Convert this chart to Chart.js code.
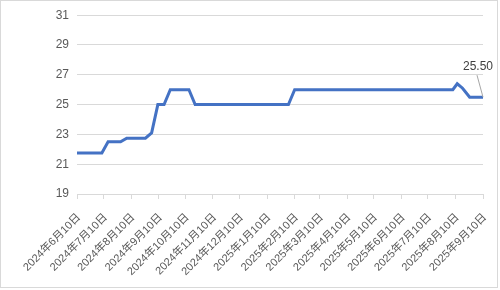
<!DOCTYPE html>
<html>
<head>
<meta charset="utf-8">
<script src="https://cdn.jsdelivr.net/npm/chart.js@4"></script>
<style>
  body { margin: 0; background: #fff; }
  #wrap { width: 500px; height: 290px; position: relative; }
</style>
</head>
<body>
<div id="wrap"><canvas id="myChart" width="500" height="290"></canvas></div>
<script>
// vertices of the price line (flat between them)
const dates = ['2024-06-10', '2024-07-08', '2024-07-15', '2024-07-29', '2024-08-05', '2024-08-26',
    '2024-09-02', '2024-09-09', '2024-09-16', '2024-09-23', '2024-10-14', '2024-10-21',
    '2025-02-03', '2025-02-10', '2025-08-07', '2025-08-12', '2025-08-18', '2025-08-26', '2025-09-10']
const values = [21.75, 21.75, 22.5, 22.5, 22.75, 22.75,
    23.1, 25, 25, 26, 26, 25,
    25, 26, 26, 26.4, 26.1, 25.5, 25.5]

const tickDates = ['2024-06-10', '2024-07-10', '2024-08-10', '2024-09-10', '2024-10-10', '2024-11-10',
    '2024-12-10', '2025-01-10', '2025-02-10', '2025-03-10', '2025-04-10', '2025-05-10',
    '2025-06-10', '2025-07-10', '2025-08-10', '2025-09-10']
const tickLabels = ['2024年6月10日', '2024年7月10日', '2024年8月10日', '2024年9月10日', '2024年10月10日', '2024年11月10日',
    '2024年12月10日', '2025年1月10日', '2025年2月10日', '2025年3月10日', '2025年4月10日', '2025年5月10日',
    '2025年6月10日', '2025年7月10日', '2025年8月10日', '2025年9月10日']

function dayNum(s) {
    const p = s.split('-').map(Number)
    return Date.UTC(p[0], p[1] - 1, p[2]) / 86400000
}

const FONT = '"Liberation Sans", Arial, "Noto Sans CJK SC", sans-serif'

const lastLabel = {
    id: 'lastLabel',
    afterDatasetsDraw(chart) {
        const meta = chart.getDatasetMeta(0)
        const pt = meta.data[meta.data.length - 1]
        const ctx = chart.ctx
        ctx.save()
        ctx.strokeStyle = '#a6a6a6'
        ctx.lineWidth = 1
        ctx.beginPath()
        ctx.moveTo(pt.x - 6, pt.y - 22)
        ctx.lineTo(pt.x, pt.y)
        ctx.stroke()
        ctx.fillStyle = '#404040'
        ctx.font = '12px ' + FONT
        ctx.textAlign = 'center'
        ctx.textBaseline = 'middle'
        ctx.fillText(values[values.length - 1].toFixed(2), pt.x - 5, pt.y - 30)
        ctx.restore()
    }
}

const frame = {
    id: 'frame',
    beforeDraw(chart) {
        const ctx = chart.ctx
        ctx.save()
        ctx.fillStyle = '#fff'
        ctx.fillRect(0, 0, chart.width, chart.height)
        ctx.strokeStyle = '#d9d9d9'
        ctx.lineWidth = 1
        ctx.strokeRect(0.5, 0.5, 497, 287)
        ctx.restore()
    }
}

new Chart(document.getElementById('myChart'), {
    type: 'line',
    data: {
        datasets: [{
            data: dates.map((d, i) => ({ x: dayNum(d), y: values[i] })),
            borderColor: '#4472c4',
            borderWidth: 3,
            pointRadius: 0,
            tension: 0
        }]
    },
    options: {
        responsive: false,
        animation: false,
        layout: { padding: { top: 15, right: 17, left: 0, bottom: 0 } },
        plugins: { legend: { display: false }, tooltip: { enabled: false } },
        scales: {
            x: {
                type: 'linear',
                min: dayNum(tickDates[0]),
                max: dayNum(tickDates[tickDates.length - 1]),
                afterBuildTicks: scale => {
                    scale.ticks = tickDates.map(d => ({ value: dayNum(d) }))
                },
                afterFit: scale => {
                    scale.height = 96
                    scale.paddingLeft = 0
                    scale.paddingRight = 0
                },
                grid: { drawOnChartArea: false, drawTicks: true, tickLength: 5, color: '#d9d9d9' },
                border: { color: '#d9d9d9' },
                ticks: {
                    autoSkip: false,
                    maxRotation: 45,
                    minRotation: 45,
                    padding: 12,
                    labelOffset: 2,
                    color: '#595959',
                    font: { size: 11, family: FONT },
                    callback: (v, i) => tickLabels[i]
                }
            },
            y: {
                min: 19,
                max: 31,
                afterFit: scale => { scale.width = 77 },
                grid: { color: '#d9d9d9', drawTicks: false },
                border: { display: false },
                ticks: {
                    stepSize: 2,
                    padding: 8,
                    color: '#595959',
                    font: { size: 12, family: FONT }
                }
            }
        }
    },
    plugins: [frame, lastLabel]
})
</script>
</body>
</html>
